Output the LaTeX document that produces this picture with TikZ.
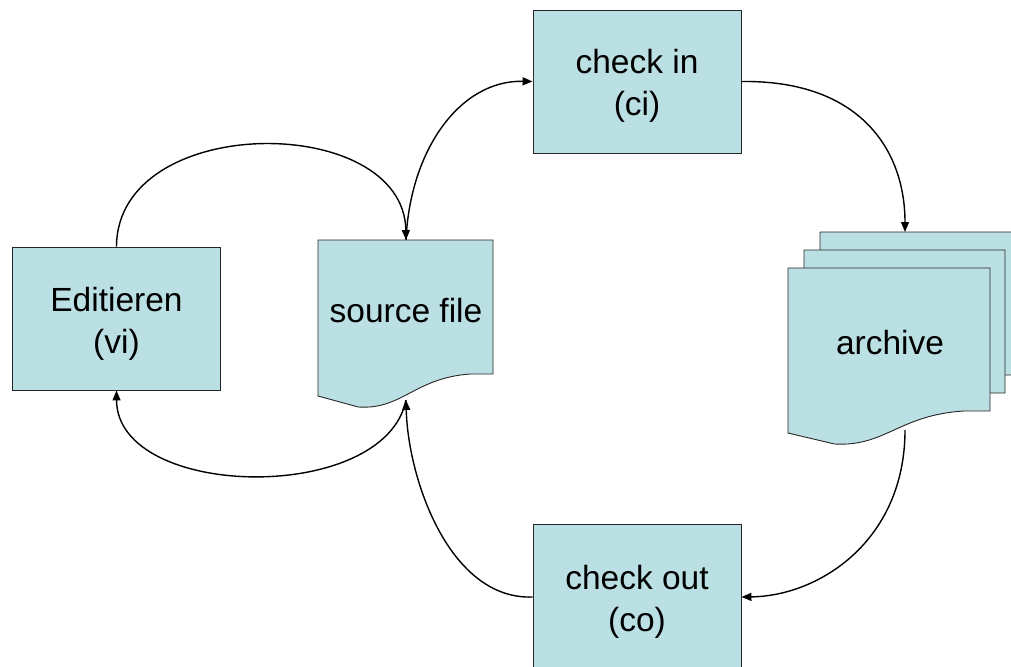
\documentclass[tikz,border=0pt]{standalone}
\usepackage{fontspec}
\setmainfont{Liberation Sans}
\usetikzlibrary{arrows.meta}
\definecolor{boxfill}{RGB}{187,224,227}
\tikzset{
  box/.style={rectangle, draw=black!85, line width=0.9pt, fill=boxfill,
    minimum width=208pt, minimum height=143pt, inner sep=0pt},
  boxlabel/.style={inner sep=0pt, align=center, font=\fontsize{33.5}{42}\selectfont},
  docshape/.style={draw=black!85, line width=0.9pt, fill=boxfill},
  conn/.style={draw=black, line width=1.4pt, -{Triangle[length=10pt,width=8pt]}},
}
% document outline: left x, top y, right x, y where the wavy bottom meets the right edge
\newcommand{\docpath}[4]{%
  \pgfmathsetmacro{\dw}{#3-#1}%
  \path[docshape] (#1,#2) -- (#3,#2) -- (#3,#4)
    -- ({#3-0.13*\dw},#4)
    .. controls ({#3-0.45*\dw},{#4+4}) and ({#3-0.52*\dw},{#4+36}) .. ({#1+0.23*\dw},{#4+33})
    -- (#1,{#4+22}) -- cycle;}
\begin{document}
\begin{tikzpicture}[x=1pt,y=-1pt]
\useasboundingbox (0,0) rectangle (1011,666);

% process boxes
\node[box] (ci) at (637,81.5) {};
\node[boxlabel] (ci-text) at (637,86) {check in\\(ci)};
\node[box, minimum height=146pt] (co) at (637,597) {};
\node[boxlabel] (co-text) at (637,602) {check out\\(co)};
\node[box] (ed) at (116.5,318.5) {};
\node[boxlabel] (ed-text) at (116.5,323.5) {Editieren\\(vi)};

% working copy
\docpath{318}{240}{493}{374}
\node[boxlabel] (src) at (406,311) {source file};
\coordinate (src-top) at (406,240);
\coordinate (src-bot) at (406,400);

% archive: three stacked sheets
\docpath{820}{232}{1032}{375}
\docpath{804}{250}{1005}{393}
\docpath{788}{268}{990}{411}
\node[boxlabel] (arc) at (890,343) {archive};
\coordinate (arc-top) at (905,232);
\coordinate (arc-bot) at (905,430);

% connectors
\draw[conn] (ed.north) .. controls (117,112) and (404,112) .. (src-top);
\draw[conn] (src-top) .. controls (410,150) and (460,80) .. (ci.west);
\draw[conn] (ci.east) .. controls (860,80) and (905,150) .. (arc-top);
\draw[conn] (arc-bot) .. controls (905,540) and (820,596) .. (co.east);
\draw[conn] (co.west) .. controls (450,600) and (408,480) .. (src-bot);
\draw[conn] (src-bot) .. controls (385,505) and (117,500) .. (ed.south);
\end{tikzpicture}
\end{document}
